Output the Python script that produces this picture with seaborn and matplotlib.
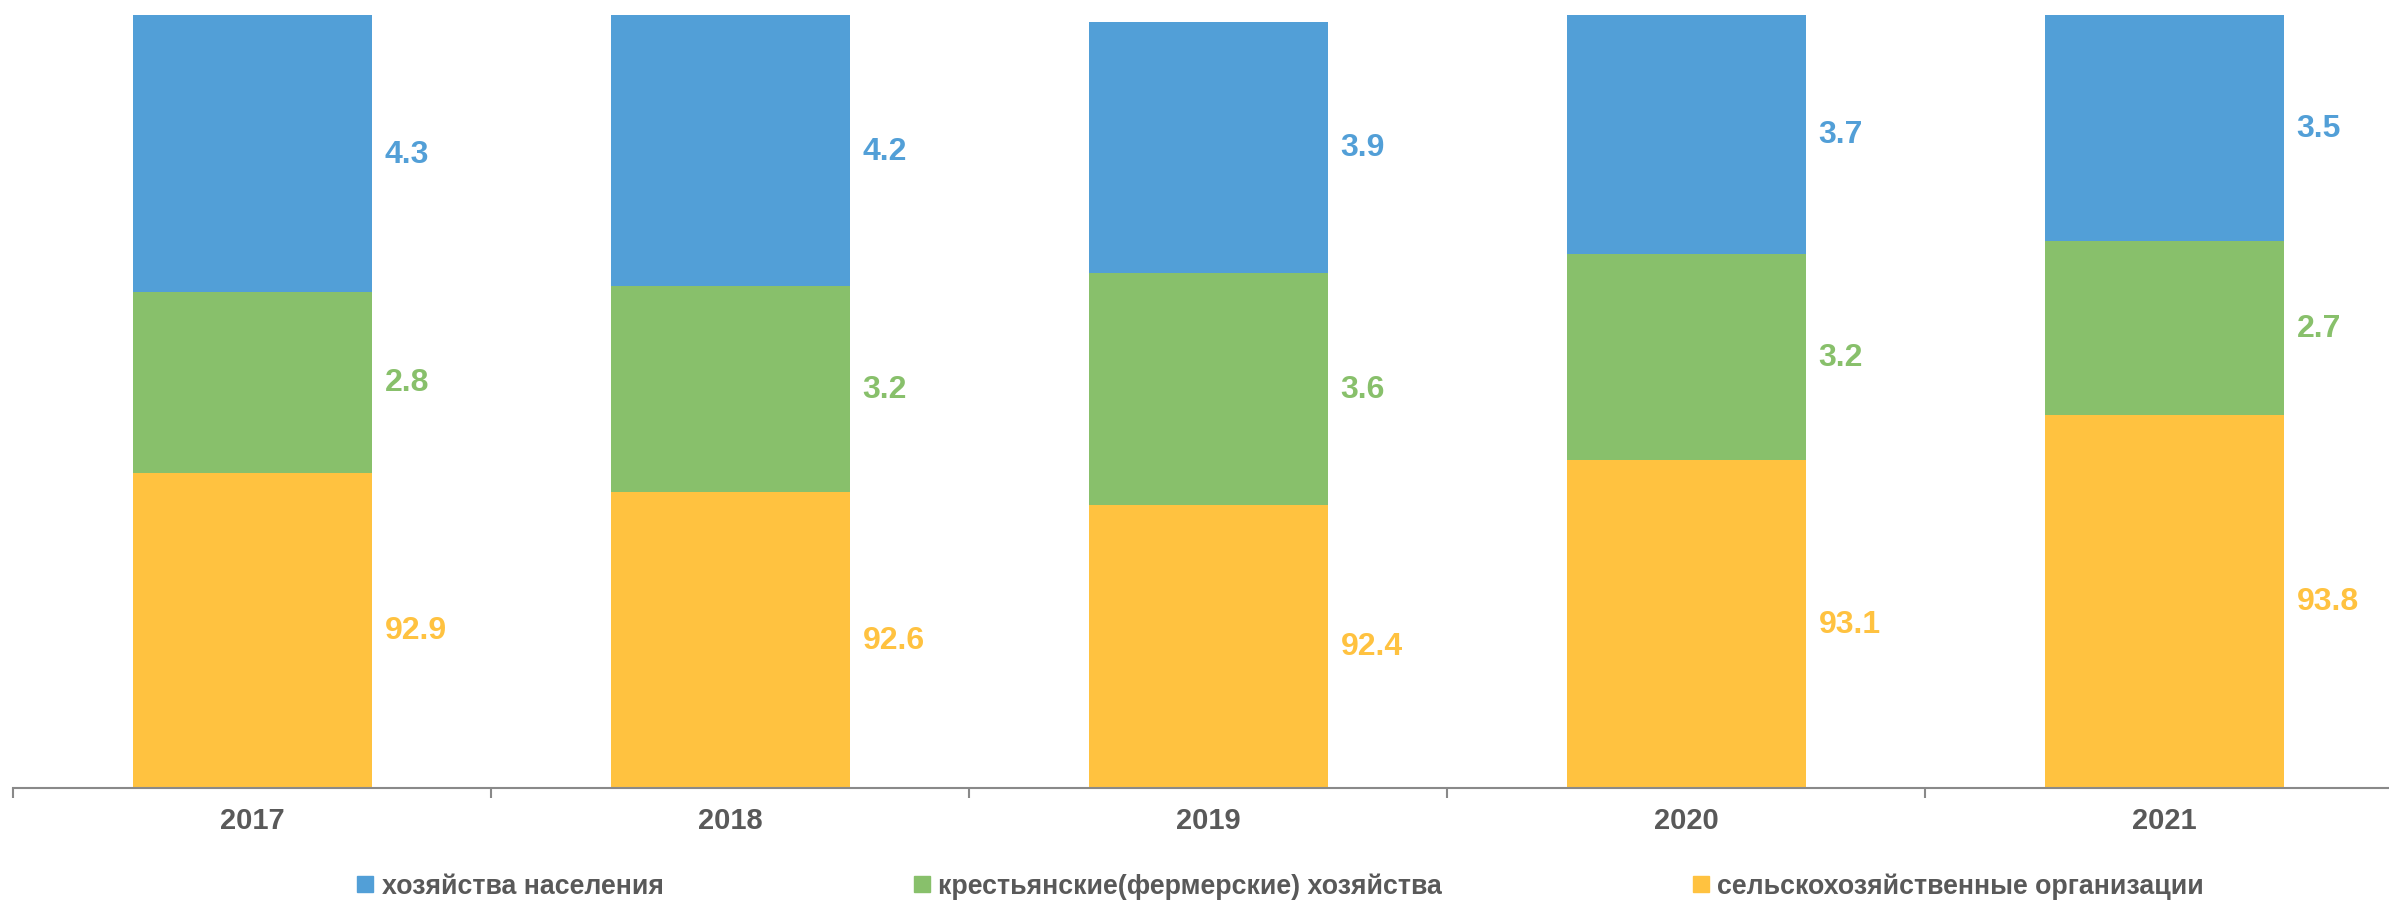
import numpy as np
import pandas as pd
import seaborn as sns
import matplotlib.pyplot as plt
from matplotlib.lines import Line2D
from matplotlib.ticker import FixedLocator

years = ["2017", "2018", "2019", "2020", "2021"]
households = [4.3, 4.2, 3.9, 3.7, 3.5]        # хозяйства населения
farms = [2.8, 3.2, 3.6, 3.2, 2.7]             # крестьянские(фермерские) хозяйства
organizations = [92.9, 92.6, 92.4, 93.1, 93.8]  # сельскохозяйственные организации

names = ["хозяйства населения",
         "крестьянские(фермерские) хозяйства",
         "сельскохозяйственные организации"]
colors = ["#529FD7", "#88C06B", "#FFC240"]
text_gray = "#595959"
axis_gray = "#898989"
y_min = 88

sns.set_style("white")
plt.rcParams['font.family'] = ['Liberation Sans', 'DejaVu Sans']

df = pd.DataFrame({"year": years, "org": organizations, "farm": farms, "hh": households})
df["lvl2"] = df["org"] + df["farm"]
df["lvl3"] = df["lvl2"] + df["hh"]

fig = plt.figure(figsize=(23.89, 9.04), dpi=100)
ax = fig.add_axes([13 / 2389, 0.127, 2390 / 2389, 0.855])

# stacked via cumulative totals, back to front
for col, c in zip(["lvl3", "lvl2", "org"], colors):
    sns.barplot(data=df, x="year", y=col, color=c, width=0.5, saturation=1,
                linewidth=0, ax=ax)

ax.set_ylim(y_min, 100)
ax.set_xlim(-0.5, len(years) - 0.5)

# value labels to the right of each bar
for i in range(len(years)):
    xr = i + 0.25 + 0.027
    segs = [(organizations[i], colors[2]), (farms[i], colors[1]), (households[i], colors[0])]
    base = 0
    for val, c in segs:
        top = base + val
        mid = (max(base, y_min) + top) / 2
        ax.text(xr, mid, f"{val:.1f}", color=c, fontsize=23, fontweight="bold",
                ha="left", va="center")
        base = top

ax.set_xlabel("")
ax.set_ylabel("")
ax.set_yticks([])
for s in ["left", "top", "right"]:
    ax.spines[s].set_visible(False)
ax.spines["bottom"].set_color(axis_gray)
ax.spines["bottom"].set_linewidth(1.5)
ax.tick_params(axis="x", which="major", length=0, pad=13, labelsize=21, labelcolor=text_gray)
for lbl in ax.get_xticklabels():
    lbl.set_fontweight("bold")
ax.xaxis.set_minor_locator(FixedLocator(np.arange(-0.5, len(years), 1.0)))
ax.tick_params(axis="x", which="minor", bottom=True, length=7, width=1.5,
               color=axis_gray, direction="out")

handles = [Line2D([0], [0], marker="s", linestyle="", markersize=11,
                  markerfacecolor=c, markeredgecolor=c) for c in colors]
leg = fig.legend(handles, names, loc="center left", bbox_to_anchor=(0.1485, 1 - 887 / 904),
                 ncol=3, frameon=False, fontsize=19.3, columnspacing=9.25,
                 handletextpad=0.2, handlelength=0.8, borderpad=0, borderaxespad=0)
for t in leg.get_texts():
    t.set_color(text_gray)
    t.set_fontweight("bold")

fig.savefig("out.png", dpi=100)
